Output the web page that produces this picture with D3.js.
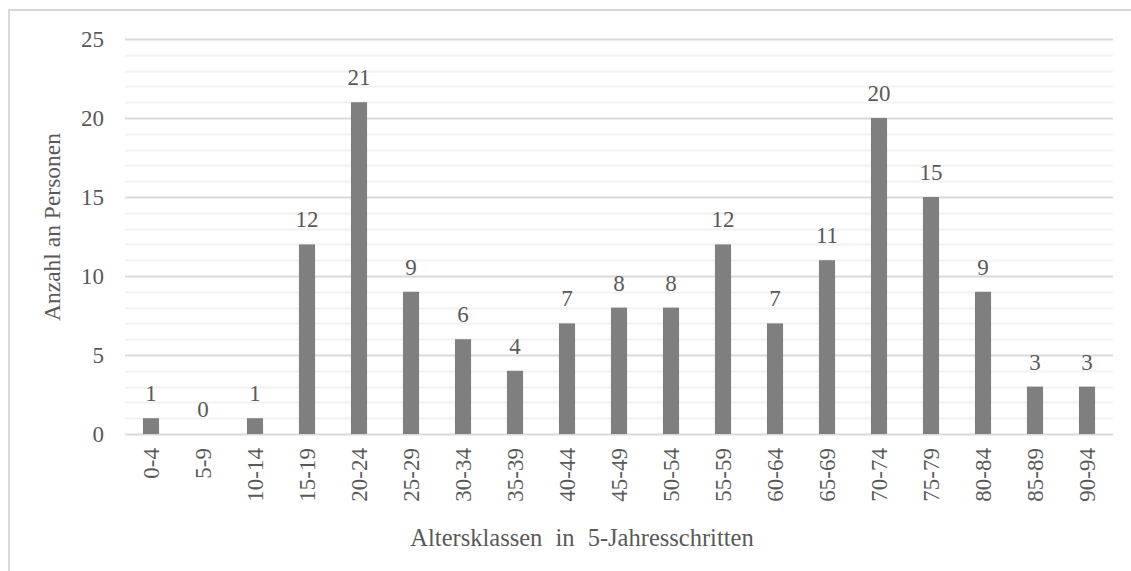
<!DOCTYPE html>
<html>
<head>
<meta charset="utf-8">
<script src="https://cdn.jsdelivr.net/npm/d3@7"></script>
<style>
  body { margin: 0; background: #fff; }
  text { font-family: "Liberation Serif", "Times New Roman", serif; fill: #595959; }
</style>
</head>
<body>
<svg id="chart" width="1131" height="571"></svg>
<script>
var categories = ["0-4", "5-9", "10-14", "15-19", "20-24", "25-29", "30-34", "35-39", "40-44",
    "45-49", "50-54", "55-59", "60-64", "65-69", "70-74", "75-79", "80-84", "85-89", "90-94"];
var counts = [1, 0, 1, 12, 21, 9, 6, 4, 7, 8, 8, 12, 7, 11, 20, 15, 9, 3, 3];
var yTicks = [0, 5, 10, 15, 20, 25];
var xTitle = "Altersklassen in 5-Jahresschritten";
var yTitle = "Anzahl an Personen";

var svg = d3.select("#chart");
var margin = { left: 125, right: 18, top: 39, bottom: 137 };
var width = 1131 - margin.left - margin.right;
var height = 571 - margin.top - margin.bottom;

// outer chart border (right and bottom fall outside the window)
svg.append("rect")
    .attr("x", 9).attr("y", 10)
    .attr("width", 1140).attr("height", 580)
    .attr("fill", "none")
    .attr("stroke", "#d9d9d9")
    .attr("stroke-width", 2);

var g = svg.append("g").attr("transform", "translate(" + margin.left + "," + margin.top + ")");

var x = d3.scaleBand().domain(categories).range([0, width]).paddingInner(0.69).paddingOuter(0.345);
var y = d3.scaleLinear().domain([0, 25]).range([height, 0]);

// minor gridlines every 1
g.append("g").selectAll("line")
    .data(d3.range(1, 26).filter(d => d % 5 !== 0))
    .enter().append("line")
    .attr("x1", 0).attr("x2", width)
    .attr("y1", d => Math.round(y(d)) + 0.5).attr("y2", d => Math.round(y(d)) + 0.5)
    .attr("stroke", "#f2f2f2").attr("stroke-width", 2);

// major gridlines
g.append("g").selectAll("line")
    .data(yTicks)
    .enter().append("line")
    .attr("x1", 0).attr("x2", width)
    .attr("y1", d => Math.round(y(d)) + 0.5).attr("y2", d => Math.round(y(d)) + 0.5)
    .attr("stroke", "#d9d9d9").attr("stroke-width", 2);

// bars
g.append("g").selectAll("rect")
    .data(counts)
    .enter().append("rect")
    .attr("x", (d, i) => x(categories[i]))
    .attr("y", d => y(d))
    .attr("width", x.bandwidth())
    .attr("height", d => y(0) - y(d))
    .attr("fill", "#7f7f7f");

// value labels
g.append("g").selectAll("text")
    .data(counts)
    .enter().append("text")
    .attr("x", (d, i) => x(categories[i]) + x.bandwidth() / 2)
    .attr("y", d => y(d) - 17)
    .attr("text-anchor", "middle")
    .style("font-size", "23px")
    .text(d => d);

// y axis
var yAxis = g.append("g")
    .call(d3.axisLeft(y).tickValues(yTicks).tickSize(0).tickPadding(21));
yAxis.select(".domain").remove();
yAxis.selectAll("text")
    .style("font-size", "23px")
    .style("font-family", "Liberation Serif, serif")
    .attr("fill", "#595959");

// x axis
var xAxis = g.append("g")
    .attr("transform", "translate(0," + height + ")")
    .call(d3.axisBottom(x).tickSize(0));
xAxis.select(".domain").remove();
xAxis.selectAll("text")
    .style("font-size", "23px")
    .style("font-family", "Liberation Serif, serif")
    .attr("fill", "#595959")
    .attr("text-anchor", "end")
    .attr("transform", "rotate(-90)")
    .attr("x", -14)
    .attr("y", 0)
    .attr("dy", "0.33em");

// axis titles
svg.append("text")
    .attr("x", 582)
    .attr("y", 546)
    .attr("text-anchor", "middle")
    .style("font-size", "24.5px")
    .style("word-spacing", "7px")
    .text(xTitle);

svg.append("text")
    .attr("transform", "translate(52,227) rotate(-90)")
    .attr("text-anchor", "middle")
    .attr("dy", "0.33em")
    .style("font-size", "23.5px")
    .text(yTitle);
</script>
</body>
</html>
